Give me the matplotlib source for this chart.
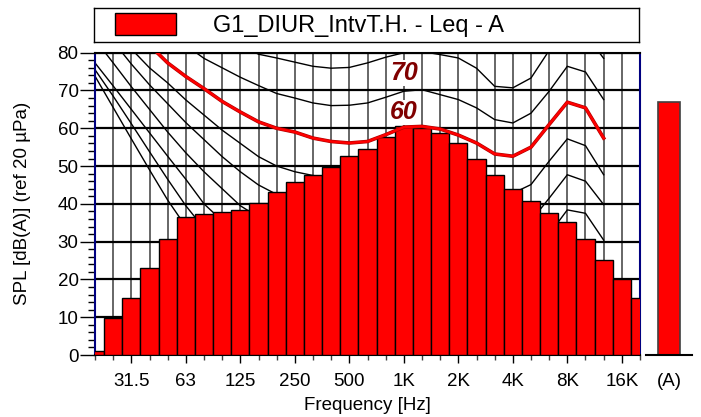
import numpy as np
import matplotlib
matplotlib.use('Agg')
import matplotlib.pyplot as plt
from matplotlib.patches import Patch
from matplotlib.ticker import MultipleLocator, NullFormatter

plt.rcParams['font.family'] = ['Liberation Sans', 'DejaVu Sans']

# third-octave bands, 20 Hz .. 20 kHz
bands = ['20', '25', '31.5', '40', '50', '63', '80', '100', '125', '160',
         '200', '250', '315', '400', '500', '630', '800', '1K', '1.25K', '1.6K',
         '2K', '2.5K', '3.15K', '4K', '5K', '6.3K', '8K', '10K', '12.5K', '16K', '20K']
leq = [1.0, 9.7, 15.0, 22.9, 30.6, 36.6, 37.2, 37.8, 38.5, 40.1,
       43.1, 45.8, 47.6, 49.7, 52.6, 54.6, 57.8, 60.5, 60.1, 58.7,
       56.1, 51.9, 47.7, 44.0, 40.8, 37.5, 35.3, 30.6, 25.1, 20.0, 15.0]
leq_total = 67.0
tick_bands = ['31.5', '63', '125', '250', '500', '1K', '2K', '4K', '8K', '16K']

# equal loudness contours, 20 Hz .. 12.5 kHz
phon0 = [73.8, 65.5, 57.2, 49.0, 41.0, 34.0, 28.0, 23.0, 19.0, 15.5, 12.5, 10.0, 8.0, 6.5, 5.5,
         4.5, 3.5, 2.5, 3.0, 2.5, 1.0, -1.0, -2.0, -2.0, 0.5, 5.0, 11.0, 12.5, 11.0]
phon10 = [75.5, 68.5, 61.2, 53.8, 46.5, 39.5, 33.5, 28.5, 24.5, 21.0, 18.0, 15.5, 13.5, 12.0, 11.0,
          10.5, 10.2, 10.0, 10.5, 10.0, 8.0, 6.0, 4.5, 4.5, 6.5, 11.0, 17.0, 18.5, 15.0]
phon20 = [77.3, 71.2, 65.0, 58.8, 52.6, 46.5, 40.0, 35.5, 32.0, 29.0, 27.0, 25.5, 24.2, 23.0, 22.0,
          21.0, 20.5, 20.0, 20.5, 20.0, 19.0, 17.0, 15.0, 14.5, 17.0, 22.0, 28.0, 29.0, 21.0]
phon30 = [83.5, 77.3, 71.0, 65.0, 59.0, 53.5, 48.5, 44.0, 39.5, 36.5, 34.5, 33.2, 32.3, 31.8, 31.0,
          30.5, 30.2, 30.0, 30.5, 30.0, 29.5, 28.0, 26.0, 25.5, 28.0, 32.0, 38.4, 37.5, 30.4]
phon40 = [88.0, 83.0, 77.0, 71.5, 66.5, 61.5, 57.0, 52.5, 48.5, 45.0, 42.5, 41.0, 40.0, 39.5, 39.3,
          39.3, 39.6, 40.0, 40.5, 40.0, 39.0, 37.0, 35.0, 34.0, 35.5, 41.5, 47.7, 46.0, 39.8]
phon50 = [92.0, 87.5, 81.0, 76.0, 72.0, 67.5, 63.5, 59.5, 56.0, 52.5, 50.0, 48.5, 47.5, 47.0, 46.5,
          46.5, 48.0, 50.0, 50.5, 50.0, 48.5, 46.5, 43.5, 42.8, 45.1, 51.3, 57.2, 55.4, 47.7]
phon60 = [100.0, 94.0, 88.0, 82.0, 77.3, 73.7, 70.5, 67.1, 64.3, 61.7, 60.0, 59.0, 57.4, 56.5, 56.1,
          56.5, 58.3, 60.3, 60.5, 59.8, 58.2, 56.1, 53.2, 52.6, 55.0, 61.0, 66.9, 65.4, 57.4]
phon70 = [106.0, 100.0, 95.0, 90.0, 86.0, 82.0, 78.5, 76.0, 73.5, 71.3, 69.2, 68.0, 66.7, 66.0, 66.1,
          66.7, 68.2, 69.8, 70.2, 68.9, 67.6, 65.4, 62.3, 61.4, 64.0, 69.8, 76.4, 74.9, 67.6]
phon80 = [112.0, 107.0, 102.0, 98.0, 94.0, 90.5, 87.0, 84.5, 82.0, 79.6, 78.6, 77.5, 76.4, 75.9, 76.1,
          77.3, 78.8, 80.0, 80.3, 79.5, 78.6, 75.9, 71.1, 70.7, 73.3, 80.6, 86.4, 84.9, 78.5]
phon90 = [118.0, 113.0, 108.0, 104.0, 100.0, 97.0, 94.5, 92.5, 90.5, 89.0, 88.0, 87.0, 86.0, 85.5, 85.5,
          86.5, 88.0, 90.0, 90.3, 89.5, 88.5, 86.0, 80.3, 79.8, 83.0, 90.5, 96.0, 95.0, 89.0]

FS = 13.5

fc = 1000.0 * 2.0 ** ((np.arange(len(bands)) - bands.index('1K')) / 3.0)
lo = fc / 2 ** (1 / 6)
wid = fc * 2 ** (1 / 6) - lo
fcc = fc[:len(phon60)]

fig = plt.figure(figsize=(7.01, 4.17), dpi=100)
ax = fig.add_axes([95 / 701, 62 / 417, 545 / 701, 302.3 / 417])

ax.set_xscale('log')
ax.set_axisbelow(True)
ax.grid(axis='x', which='both', color='#5a5a5a', lw=1.3)
ax.grid(axis='y', which='major', color='black', lw=1.6)

for c in [phon0, phon10, phon20, phon30, phon40, phon50, phon70, phon80, phon90]:
    ax.plot(fcc, c, color='black', lw=1.0, zorder=1)

ax.bar(lo, leq, width=wid, align='edge', color='#ff0000', edgecolor='black', lw=1.0, zorder=3)

lbl = dict(color='#800000', fontsize=18, fontweight='bold', fontstyle='italic',
           ha='center', va='center', zorder=3.5,
           bbox=dict(facecolor='white', edgecolor='none', pad=0.5))
ax.text(1000, 74.6, '70', **lbl)
ax.text(1000, 64.2, '60', **lbl)

ax.plot(fcc, phon60, color='#b00000', lw=2.6, zorder=4, solid_joinstyle='round')
ax.plot(fcc, phon60, color='#ff0000', lw=1.7, zorder=4.1, solid_joinstyle='round')

ax.set_xlim(fc[0], fc[-1])
ax.set_ylim(0, 80)
maj = [bands.index(b) for b in tick_bands]
ax.set_xticks(fc[maj], tick_bands)
ax.set_xticks(np.delete(fc, maj), minor=True)
ax.xaxis.set_minor_formatter(NullFormatter())
ax.set_yticks(range(0, 81, 10))
ax.yaxis.set_minor_locator(MultipleLocator(2))

ax.tick_params(axis='y', which='major', length=10.8, width=1, pad=1, labelsize=FS, color='black')
ax.tick_params(axis='y', which='minor', length=5.4, width=1, color='black')
ax.tick_params(axis='x', which='major', length=5.8, width=1, pad=7.5, labelsize=FS, color='black')
ax.tick_params(axis='x', which='minor', length=3.6, width=1, color='#404040')

for s in ['left', 'right']:
    ax.spines[s].set_color('#000080')
    ax.spines[s].set_linewidth(1.5)
for s in ['top', 'bottom']:
    ax.spines[s].set_color('black')
    ax.spines[s].set_linewidth(1.5)

ax.set_xlabel('Frequency [Hz]', fontsize=FS)
ax.xaxis.set_label_coords(0.5, -0.138)
ax.set_ylabel('SPL [dB(A)] (ref 20 µPa)', fontsize=FS)
ax.yaxis.set_label_coords(-0.118, 0.5)

# overall A-weighted level
ax2 = fig.add_axes([646 / 701, 62 / 417, 46 / 701, 302.3 / 417])
ax2.bar([0], [leq_total], width=0.49, color='#ff0000', edgecolor='#404040', lw=1.2)
ax2.set_xlim(-0.5, 0.5)
ax2.set_ylim(0, 80)
ax2.set_yticks([])
ax2.set_xticks([0], ['(A)'])
ax2.tick_params(axis='x', length=0, pad=7.5 + 5.8, labelsize=FS)
for s in ['top', 'left', 'right']:
    ax2.spines[s].set_visible(False)
ax2.spines['bottom'].set_linewidth(1.5)

# legend box
lax = fig.add_axes([94 / 701, 1 - 41.7 / 417, 545 / 701, 33.7 / 417])
lax.set_xticks([])
lax.set_yticks([])
for s in lax.spines.values():
    s.set_linewidth(1.0)
lfs = 17
lpx = lfs * 100 / 72
lax.legend(handles=[Patch(facecolor='#ff0000', edgecolor='black')],
           labels=['G1_DIUR_IntvT.H. - Leq - A'],
           loc='center left', bbox_to_anchor=(21 / 545, 0.5), frameon=False,
           borderpad=0, borderaxespad=0, handlelength=61 / lpx,
           handleheight=25 / lpx, handletextpad=36.7 / lpx, fontsize=lfs)

fig.savefig('out.png', dpi=100)
